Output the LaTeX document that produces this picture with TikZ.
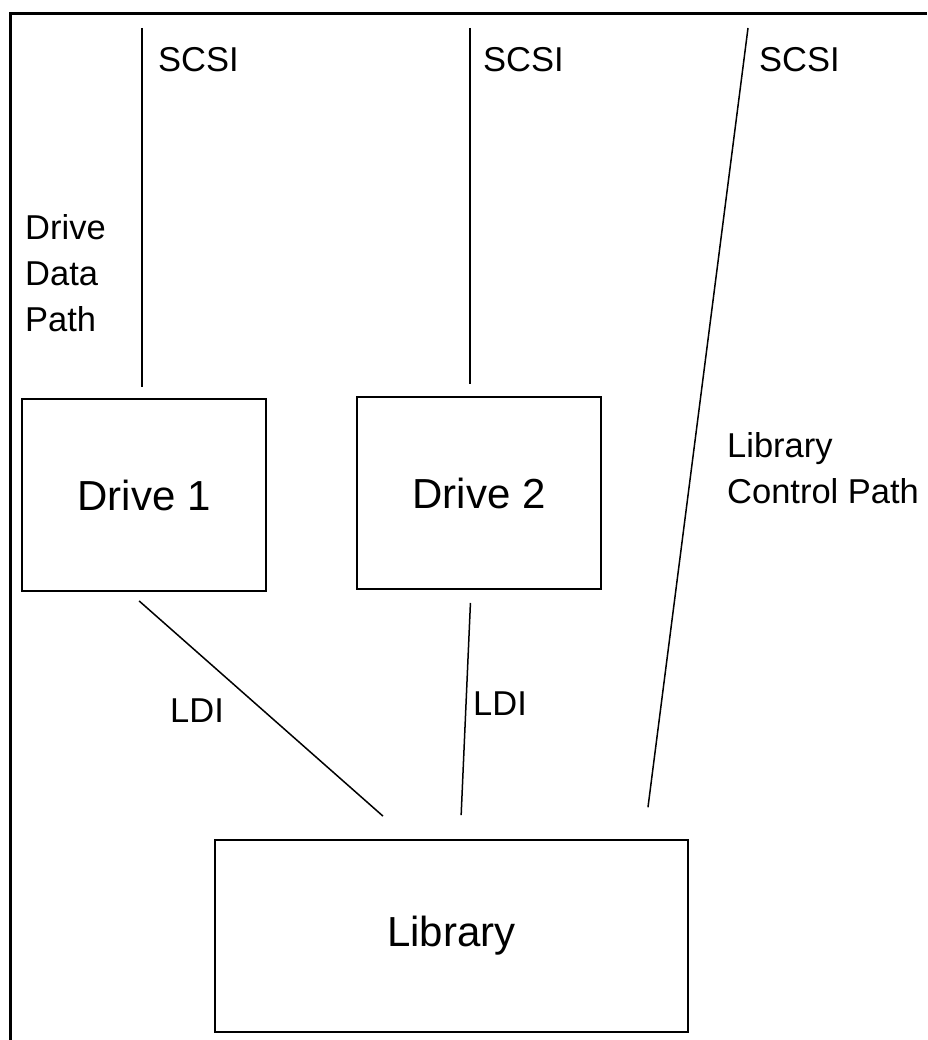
\documentclass[tikz,border=0pt]{standalone}
\usepackage{fontspec}
\setmainfont{Liberation Sans}
\usetikzlibrary{positioning}

\begin{document}
\begin{tikzpicture}[%
    x=1pt, y=-1pt,              % One unit per point, y runs downwards
    node distance=89pt,         % Gap between the two drive boxes
    ]
% -------------------------------------------------
% Box, label and line styles
\tikzset{
  box/.style={draw, line width=2pt, inner sep=0pt, minimum width=244pt,
    minimum height=192pt, font=\fontsize{42}{50}\selectfont},
  lbl/.style={inner sep=0pt, anchor=base west, align=left,
    font=\fontsize{34.5}{46}\selectfont},
  link/.style={draw, line width=1.5pt},
  frame/.style={draw, line width=3pt}
}
% -------------------------------------------------
\useasboundingbox (0,0) rectangle (927,1040);
\draw [frame] (10,1040) -- (10,14) -- (927,14);

% The drives and the library
\node [box] (drive1) at (144,495) {Drive 1};
\node [box, right=of drive1, yshift=2pt] (drive2) {Drive 2};
\node [box, minimum width=473pt] (library) at (451.5,936) {Library};

% Loose upper ends of the SCSI cables
\coordinate (bus1) at (142,28);
\coordinate (bus2) at (470,28);
\coordinate (bus3) at (748,28);

% SCSI paths
\draw [link, shorten >=11pt] (bus1) -- (bus1 |- drive1.north);
\draw [link, shorten >=12pt] (bus2) -- (bus2 |- drive2.north);
\draw [link, shorten >=32pt] (bus3) -- ([xshift=192.4pt]library.north);

% LDI links from the drives down to the library
\draw [link, shorten <=13.5pt, shorten >=34.6pt]
  ([xshift=-15pt]drive1.south) -- ([xshift=-42.6pt]library.north);
\draw [link, shorten <=13pt, shorten >=24pt]
  ([xshift=-8pt]drive2.south) -- ([xshift=8.6pt]library.north);

% Labels (multi-line ones sit on the baseline of their last line)
\node [lbl] (scsi1) at (158,72) {SCSI};
\node [lbl] (scsi2) at (483,72) {SCSI};
\node [lbl] (scsi3) at (759,72) {SCSI};
\node [lbl] (datapath) at (25,331) {Drive\\Data\\Path};
\node [lbl] (ctlpath) at (727,503) {Library\\Control Path};
\node [lbl] (ldi1) at (170,722) {LDI};
\node [lbl] (ldi2) at (473,715) {LDI};
% -------------------------------------------------
\end{tikzpicture}
\end{document}
